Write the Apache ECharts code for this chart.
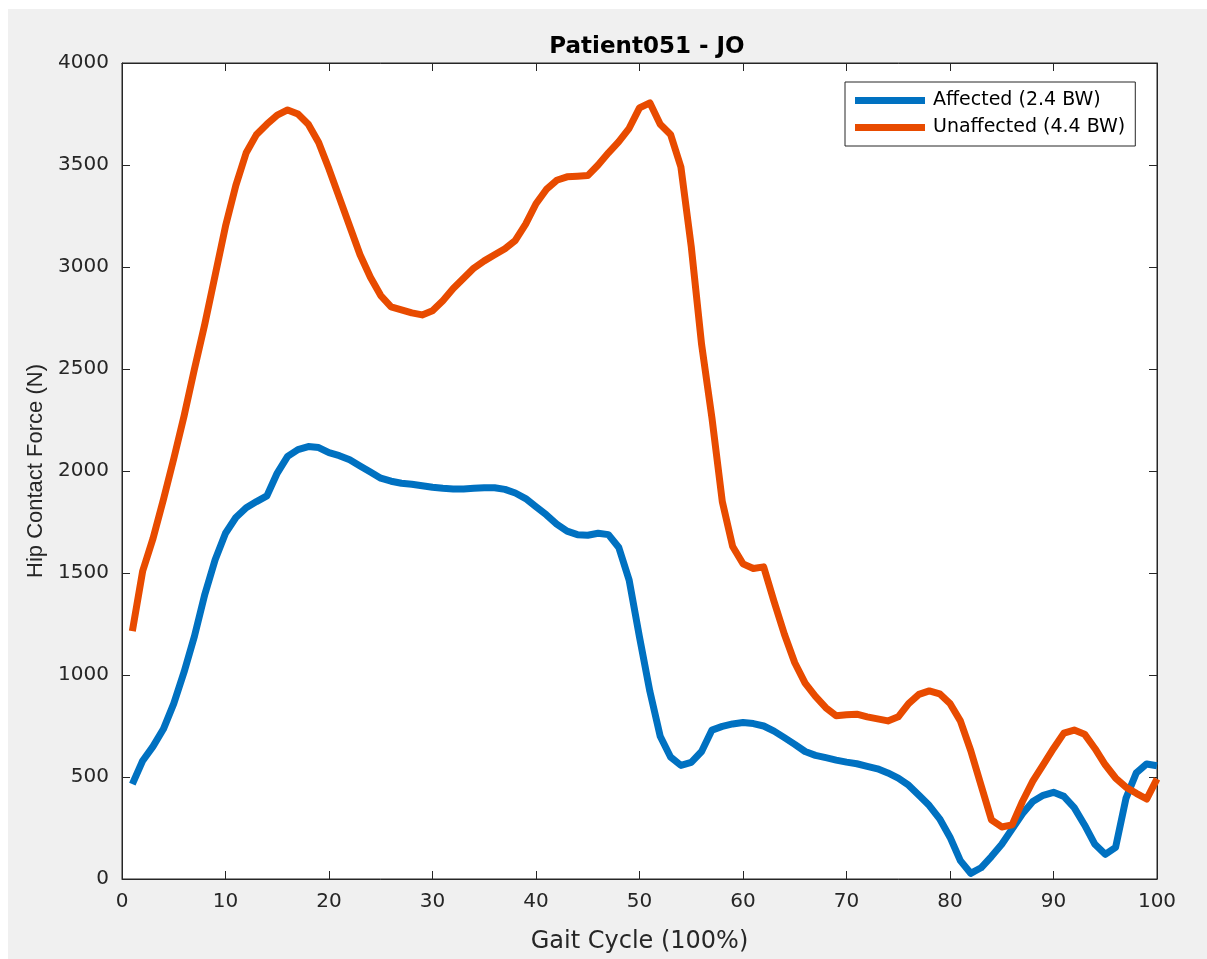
<!DOCTYPE html>
<html>
<head>
<meta charset="utf-8">
<title>Patient051 - JO</title>
<script src="https://cdn.jsdelivr.net/npm/echarts@6/dist/echarts.min.js"></script>
<style>
  html, body { margin: 0; padding: 0; background: #ffffff; }
  #chart { width: 1207px; height: 959px; }
</style>
</head>
<body>
<div id="chart"></div>
<script>
// Gait cycle samples (percent of cycle)
const gaitCycle = [
  1, 2, 3, 4, 5, 6, 7, 8, 9, 10,
  11, 12, 13, 14, 15, 16, 17, 18, 19, 20,
  21, 22, 23, 24, 25, 26, 27, 28, 29, 30,
  31, 32, 33, 34, 35, 36, 37, 38, 39, 40,
  41, 42, 43, 44, 45, 46, 47, 48, 49, 50,
  51, 52, 53, 54, 55, 56, 57, 58, 59, 60,
  61, 62, 63, 64, 65, 66, 67, 68, 69, 70,
  71, 72, 73, 74, 75, 76, 77, 78, 79, 80,
  81, 82, 83, 84, 85, 86, 87, 88, 89, 90,
  91, 92, 93, 94, 95, 96, 97, 98, 99, 100
];

// Hip contact force, affected side (N)
const affected = [
  465, 580, 650, 735, 860, 1015, 1190, 1395, 1565, 1695,
  1772, 1820, 1850, 1878, 1990, 2072, 2105, 2120, 2115, 2090,
  2075, 2055, 2025, 1995, 1965, 1950, 1940, 1935, 1928, 1920,
  1915, 1912, 1912, 1915, 1918, 1918, 1910, 1892, 1865, 1825,
  1785, 1740, 1705, 1688, 1685, 1695, 1688, 1625, 1465, 1186,
  920, 700, 598, 557, 572, 625, 730, 748, 760, 767,
  762, 750, 725, 693, 660, 625, 606, 595, 583, 573,
  565, 552, 540, 520, 495, 460, 410, 360, 295, 205,
  90, 28, 55, 110, 170, 245, 320, 380, 410, 425,
  405, 350, 265, 170, 121, 155, 395, 520, 564, 555
];

// Hip contact force, unaffected side (N)
const unaffected = [
  1215, 1510, 1670, 1860, 2060, 2270, 2500, 2720, 2960, 3200,
  3400, 3560, 3650, 3700, 3745, 3770, 3750, 3700, 3610, 3480,
  3340, 3200, 3060, 2950, 2860, 2805, 2790, 2775, 2765, 2785,
  2835, 2895, 2945, 2995, 3030, 3060, 3090, 3130, 3210, 3310,
  3380, 3425, 3442, 3445, 3448, 3500, 3560, 3615, 3680, 3780,
  3805, 3700, 3650, 3490, 3100, 2620, 2260, 1850, 1630, 1545,
  1522, 1530, 1360, 1200, 1060, 960, 895, 840, 800, 805,
  808, 795, 785, 775, 795, 860, 905, 922, 908, 860,
  775, 630, 460, 290, 255, 265, 380, 480, 560, 640,
  715, 730, 710, 640, 560, 495, 450, 420, 392, 491
];

const seriesNames = ['Affected (2.4 BW)', 'Unaffected (4.4 BW)'];
const seriesColors = ['#0071C1', '#E84B00'];

const textColor = '#262626';
const wideFont = '"DejaVu Sans", Verdana, sans-serif';
const narrowFont = '"Liberation Sans", Arial, Helvetica, sans-serif';

const pairs = (ys) => gaitCycle.map((x, i) => [x, ys[i]]);

// Box axes with inward ticks on every side
function axisStyle() {
  return {
    axisLine: { show: true, onZero: false, lineStyle: { color: textColor, width: 1 } },
    axisTick: { show: true, inside: true, length: 8, lineStyle: { color: textColor, width: 1 } },
    splitLine: { show: false }
  };
}

const chart = echarts.init(document.getElementById('chart'));

chart.setOption({
  animation: false,
  backgroundColor: '#ffffff',
  graphic: [
    {
      type: 'rect',
      left: 8, top: 9,
      shape: { width: 1199, height: 950 },
      style: { fill: '#f0f0f0' },
      z: -10
    }
  ],
  title: {
    text: 'Patient051 - JO',
    left: 642,
    top: 31,
    textAlign: 'center',
    textStyle: { fontFamily: wideFont, fontSize: 23, fontWeight: 'bold', color: '#000000' }
  },
  legend: {
    data: seriesNames,
    orient: 'vertical',
    left: 845,
    top: 82,
    padding: [9, 10, 9, 10],
    itemGap: 8,
    itemWidth: 70,
    itemHeight: 7,
    icon: 'rect',
    backgroundColor: '#ffffff',
    borderColor: textColor,
    borderWidth: 1,
    borderRadius: 0,
    textStyle: { fontFamily: wideFont, fontSize: 19, color: '#000000', padding: [0, 0, 0, 3] }
  },
  grid: {
    left: 122, right: 50, top: 63, bottom: 80,
    show: true,
    backgroundColor: '#ffffff',
    borderColor: textColor,
    borderWidth: 1
  },
  xAxis: [
    Object.assign(axisStyle(), {
      type: 'value', min: 0, max: 100, interval: 10, position: 'bottom',
      name: 'Gait Cycle (100%)',
      nameLocation: 'middle',
      nameGap: 51,
      nameTextStyle: { fontFamily: wideFont, fontSize: 24, color: textColor },
      axisLabel: { fontFamily: wideFont, fontSize: 20, color: textColor, margin: 13 }
    }),
    Object.assign(axisStyle(), {
      type: 'value', min: 0, max: 100, interval: 10, position: 'top',
      axisLabel: { show: false }
    })
  ],
  yAxis: [
    Object.assign(axisStyle(), {
      type: 'value', min: 0, max: 4000, interval: 500, position: 'left',
      name: 'Hip Contact Force (N)',
      nameLocation: 'middle',
      nameGap: 74,
      nameTextStyle: { fontFamily: narrowFont, fontSize: 22, color: textColor },
      axisLabel: {
        fontFamily: wideFont, fontSize: 20, color: textColor, margin: 13,
        formatter: (v) => String(v)
      }
    }),
    Object.assign(axisStyle(), {
      type: 'value', min: 0, max: 4000, interval: 500, position: 'right',
      axisLabel: { show: false }
    })
  ],
  series: [
    {
      name: seriesNames[0],
      type: 'line',
      data: pairs(affected),
      showSymbol: false,
      smooth: false,
      lineStyle: { width: 7, color: seriesColors[0], join: 'round', cap: 'butt' },
      itemStyle: { color: seriesColors[0] },
      z: 3
    },
    {
      name: seriesNames[1],
      type: 'line',
      data: pairs(unaffected),
      showSymbol: false,
      smooth: false,
      lineStyle: { width: 7, color: seriesColors[1], join: 'round', cap: 'butt' },
      itemStyle: { color: seriesColors[1] },
      z: 4
    }
  ]
});
</script>
</body>
</html>
